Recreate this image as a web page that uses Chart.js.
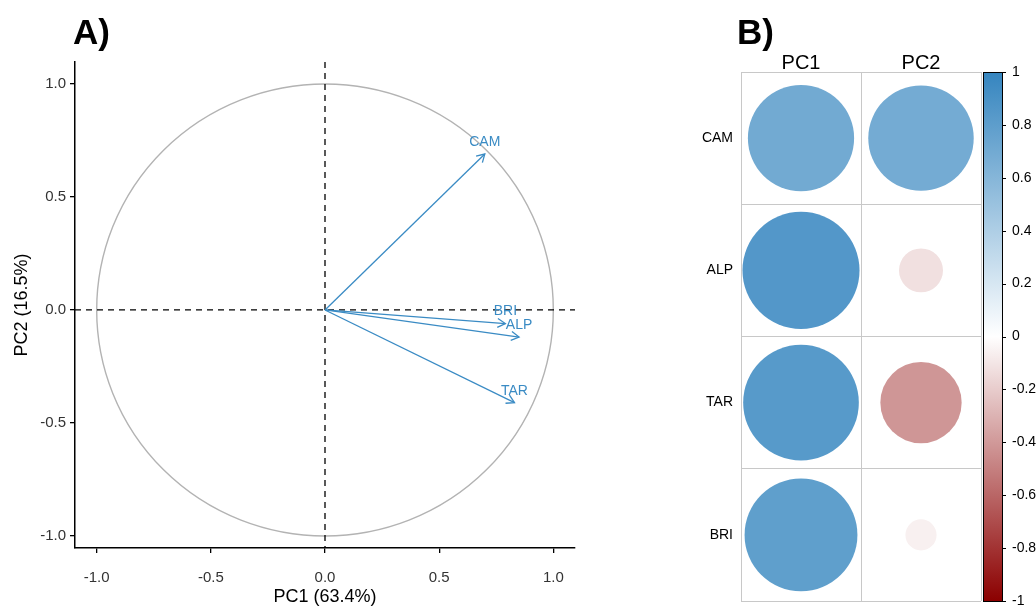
<!DOCTYPE html>
<html>
<head>
<meta charset="utf-8">
<script src="https://cdn.jsdelivr.net/npm/chart.js@4.4.1/dist/chart.umd.min.js"></script>
<style>
  html, body { margin: 0; padding: 0; background: #fff; }
  body { width: 1036px; height: 609px; position: relative; overflow: hidden; font-family: "Liberation Sans", Arial, sans-serif; }
  .tag { position: absolute; font-weight: bold; font-size: 35px; line-height: 35px; color: #000; z-index: 2; }
  #wrapA { position: absolute; left: 0; top: 0; }
  #wrapB { position: absolute; left: 690px; top: 0; }
</style>
</head>
<body>
<div id="wrapA"><canvas id="pca" width="600" height="609"></canvas></div>
<div id="wrapB"><canvas id="corr" width="346" height="609"></canvas></div>
<div class="tag" style="left:73px; top:14px;">A)</div>
<div class="tag" style="left:737px; top:14px;">B)</div>
<script>
// variable loadings on the first two components
const variables = ['CAM', 'ALP', 'TAR', 'BRI'];
const pc1 = [0.70, 0.85, 0.83, 0.79];
const pc2 = [0.69, -0.12, -0.41, -0.06];
const components = ['PC1', 'PC2'];
const axisTicks = [-1, -0.5, 0, 0.5, 1];
const colorTicks = [1, 0.8, 0.6, 0.4, 0.2, 0, -0.2, -0.4, -0.6, -0.8, -1];

const FONT = '"Liberation Sans", Arial, sans-serif';
const ARROW = '#3a8bc4';
const HI = [53, 133, 191];
const LO = [139, 0, 0];

function corrColor(v) {
  const end = v >= 0 ? HI : LO;
  const t = Math.min(1, Math.abs(v));
  const c = end.map(e => Math.round(255 + (e - 255) * t));
  return 'rgb(' + c.join(',') + ')';
}

// ---- A) correlation circle ----
const pcaDecor = {
  id: 'pcaDecor',
  beforeDatasetsDraw(chart) {
    const { ctx, chartArea: a, scales: { x, y } } = chart;
    const cx = x.getPixelForValue(0), cy = y.getPixelForValue(0);
    ctx.save();
    ctx.strokeStyle = '#b3b3b3';
    ctx.lineWidth = 1.4;
    ctx.beginPath();
    ctx.ellipse(cx, cy, x.getPixelForValue(1) - cx, cy - y.getPixelForValue(1), 0, 0, Math.PI * 2);
    ctx.stroke();
    ctx.strokeStyle = '#000';
    ctx.lineWidth = 1.3;
    ctx.setLineDash([6, 5]);
    ctx.beginPath();
    ctx.moveTo(a.left, cy); ctx.lineTo(a.right, cy);
    ctx.moveTo(cx, a.top); ctx.lineTo(cx, a.bottom);
    ctx.stroke();
    ctx.restore();
  },
  afterDatasetsDraw(chart) {
    const ctx = chart.ctx;
    ctx.save();
    ctx.strokeStyle = ARROW;
    ctx.fillStyle = ARROW;
    ctx.lineWidth = 1.3;
    ctx.font = '14px ' + FONT;
    ctx.textAlign = 'center';
    ctx.textBaseline = 'middle';
    chart.data.datasets.forEach((ds, i) => {
      const pts = chart.getDatasetMeta(i).data;
      const p0 = pts[0], p1 = pts[1];
      const ang = Math.atan2(p1.y - p0.y, p1.x - p0.x);
      const len = 9, spread = Math.PI / 6;
      ctx.beginPath();
      ctx.moveTo(p1.x - len * Math.cos(ang - spread), p1.y - len * Math.sin(ang - spread));
      ctx.lineTo(p1.x, p1.y);
      ctx.lineTo(p1.x - len * Math.cos(ang + spread), p1.y - len * Math.sin(ang + spread));
      ctx.stroke();
      ctx.fillText(ds.label, p1.x, p1.y - 12);
    });
    ctx.restore();
  }
};

new Chart(document.getElementById('pca'), {
  type: 'scatter',
  data: {
    datasets: variables.map((v, i) => ({
      label: v,
      data: [{ x: 0, y: 0 }, { x: pc1[i], y: pc2[i] }],
      showLine: true,
      borderColor: ARROW,
      borderWidth: 1.3,
      pointRadius: 0
    }))
  },
  options: {
    responsive: false,
    animation: false,
    events: [],
    layout: { padding: { top: 62, right: 25, left: 0, bottom: 0 } },
    plugins: { legend: { display: false }, tooltip: { enabled: false } },
    scales: {
      x: {
        type: 'linear', min: -1.095, max: 1.095,
        afterBuildTicks: s => { s.ticks = axisTicks.map(v => ({ value: v })); },
        afterFit: s => { s.height = 61; },
        grid: { drawOnChartArea: false, color: '#000', tickLength: 5, lineWidth: 1.3 },
        border: { color: '#000', width: 1.5 },
        ticks: { color: '#333', font: { size: 15, family: FONT }, padding: 16, callback: v => v.toFixed(1) },
        title: { display: true, text: 'PC1 (63.4%)', color: '#000', font: { size: 18, family: FONT }, padding: { top: 0, bottom: 1 } }
      },
      y: {
        type: 'linear', min: -1.053, max: 1.097,
        afterBuildTicks: s => { s.ticks = axisTicks.map(v => ({ value: v })); },
        afterFit: s => { s.width = 75; },
        grid: { drawOnChartArea: false, color: '#000', tickLength: 5, lineWidth: 1.3 },
        border: { color: '#000', width: 1.5 },
        ticks: { color: '#333', font: { size: 15, family: FONT }, padding: 4, callback: v => v.toFixed(1) },
        title: { display: true, text: 'PC2 (16.5%)', color: '#000', font: { size: 18, family: FONT }, padding: { top: 11, bottom: 0 } }
      }
    }
  },
  plugins: [pcaDecor]
});

// ---- B) correlation plot ----
const corrPoints = [];
variables.forEach((v, i) => {
  corrPoints.push({ x: 'PC1', y: v, v: pc1[i] });
  corrPoints.push({ x: 'PC2', y: v, v: pc2[i] });
});

const colorBar = {
  id: 'colorBar',
  afterDraw(chart) {
    const { ctx } = chart;
    const s = chart.scales.cb;
    const x0 = s.left + 2, w = 19;
    const top = s.getPixelForValue(1), bot = s.getPixelForValue(-1);
    const g = ctx.createLinearGradient(0, top, 0, bot);
    g.addColorStop(0, corrColor(1));
    g.addColorStop(0.5, '#ffffff');
    g.addColorStop(1, corrColor(-1));
    ctx.save();
    ctx.fillStyle = g;
    ctx.fillRect(x0, top, w, bot - top);
    ctx.strokeStyle = '#000';
    ctx.lineWidth = 1;
    ctx.strokeRect(x0 + 0.5, top + 0.5, w, bot - top);
    ctx.beginPath();
    colorTicks.forEach(t => {
      const py = Math.round(s.getPixelForValue(t)) + 0.5;
      ctx.moveTo(x0 + w, py);
      ctx.lineTo(x0 + w + 4, py);
    });
    ctx.stroke();
    ctx.restore();
  }
};

function cellRadius(c) {
  const a = c.chart.chartArea;
  if (!a || !c.raw || c.raw.v === undefined) return 0;
  const cellH = (a.bottom - a.top) / variables.length;
  return 0.48 * cellH * Math.sqrt(Math.abs(c.raw.v));
}

new Chart(document.getElementById('corr'), {
  type: 'scatter',
  data: {
    datasets: [{
      data: corrPoints,
      showLine: false,
      pointRadius: cellRadius,
      pointHoverRadius: cellRadius,
      pointBorderWidth: 0,
      pointBackgroundColor: c => (c.raw && c.raw.v !== undefined) ? corrColor(c.raw.v) : 'rgba(0,0,0,0)',
      clip: false
    }]
  },
  options: {
    responsive: false,
    animation: false,
    events: [],
    layout: { autoPadding: false, padding: { top: 0, right: 0, left: 0, bottom: 8 } },
    plugins: { legend: { display: false }, tooltip: { enabled: false } },
    scales: {
      x: {
        type: 'category', labels: components, position: 'top',
        offset: true,
        afterFit: s => { s.height = 72; s.paddingLeft = 0; s.paddingRight = 0; },
        grid: { offset: true, color: '#c8c8c8', drawTicks: false },
        border: { color: '#c8c8c8' },
        ticks: { color: '#000', font: { size: 20, family: FONT }, padding: -3 }
      },
      y: {
        type: 'category', labels: variables, position: 'left',
        offset: true,
        afterFit: s => { s.width = 51; s.paddingTop = 0; s.paddingBottom = 0; },
        grid: { offset: true, color: '#c8c8c8', drawTicks: false },
        border: { color: '#c8c8c8' },
        ticks: { color: '#000', font: { size: 14, family: FONT }, padding: 8 }
      },
      cb: {
        type: 'linear', axis: 'y', position: 'right', min: -1, max: 1,
        afterBuildTicks: s => { s.ticks = colorTicks.map(v => ({ value: v })); },
        afterFit: s => { s.width = 55; s.paddingTop = 0; s.paddingBottom = 0; },
        // transparent tick marks only reserve the room taken by the colour bar
        grid: { display: true, drawOnChartArea: false, drawTicks: true, tickLength: 31, color: 'rgba(0,0,0,0)' },
        border: { display: false },
        ticks: { color: '#000', font: { size: 14, family: FONT }, padding: 0,
          callback: v => v === 0 ? '0' : String(+v.toFixed(1)) }
      }
    }
  },
  plugins: [colorBar]
});
</script>
</body>
</html>
